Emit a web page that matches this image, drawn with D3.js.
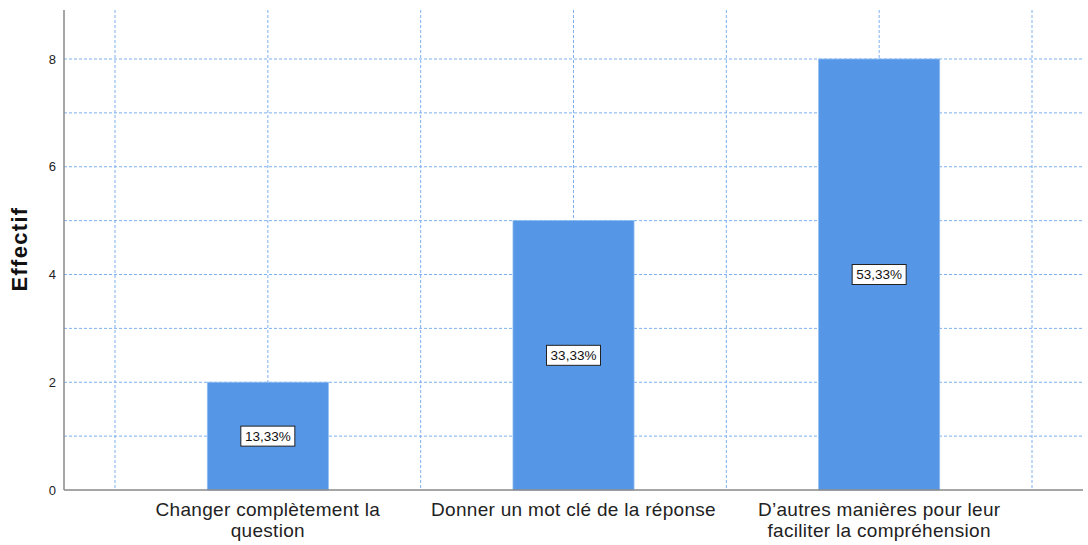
<!DOCTYPE html>
<html>
<head>
<meta charset="utf-8">
<script src="https://cdn.jsdelivr.net/npm/d3@7"></script>
<style>
  body { margin: 0; background: #fff; }
  svg { font-family: "Liberation Sans", Arial, sans-serif; }
</style>
</head>
<body>
<svg id="chart" width="1088" height="545"></svg>
<script>
const categories = [
  ["Changer complètement la", "question"],
  ["Donner un mot clé de la réponse"],
  ["D\u2019autres manières pour leur", "faciliter la compréhension"]
];
const counts = [2, 5, 8];
const percentLabels = ["13,33%", "33,33%", "53,33%"];
const yTicks = [0, 2, 4, 6, 8];
const yGrid = [1, 2, 3, 4, 5, 6, 7, 8];

const svg = d3.select("#chart");
const plotLeft = 64, plotRight = 1083, plotTop = 10, plotBottom = 490;

// band scale sits inside the axis, leaving room on both sides
const x = d3.scaleBand()
  .domain(d3.range(categories.length))
  .range([115, 1032])
  .paddingInner(0)
  .paddingOuter(0);

const y = d3.scaleLinear().domain([0, 8]).range([plotBottom, 59]);

const gridColor = "#7fb0f0";

// horizontal grid
svg.append("g").selectAll("line")
  .data(yGrid)
  .join("line")
  .attr("x1", plotLeft).attr("x2", plotRight)
  .attr("y1", d => y(d)).attr("y2", d => y(d))
  .attr("stroke", gridColor)
  .attr("stroke-width", 1)
  .attr("stroke-dasharray", "3,2");

// vertical grid: band edges and centres
const vGrid = [];
categories.forEach((c, i) => {
  vGrid.push(x(i));
  vGrid.push(x(i) + x.bandwidth() / 2);
});
vGrid.push(x(categories.length - 1) + x.bandwidth());

svg.append("g").selectAll("line")
  .data(vGrid)
  .join("line")
  .attr("x1", d => d).attr("x2", d => d)
  .attr("y1", plotTop).attr("y2", plotBottom)
  .attr("stroke", gridColor)
  .attr("stroke-width", 1)
  .attr("stroke-dasharray", "3,2");

// bars
const barW = x.bandwidth() * 0.396;
svg.append("g").selectAll("rect")
  .data(counts)
  .join("rect")
  .attr("x", (d, i) => x(i) + x.bandwidth() / 2 - barW / 2)
  .attr("y", d => y(d))
  .attr("width", barW)
  .attr("height", d => plotBottom - y(d))
  .attr("fill", "#5596e6")
  .attr("stroke", "#8fbcf0")
  .attr("stroke-width", 0.8);

// percentage labels
const lab = svg.append("g").selectAll("g")
  .data(counts)
  .join("g")
  .attr("transform", (d, i) => `translate(${x(i) + x.bandwidth() / 2},${y(d / 2)})`);

lab.append("rect")
  .attr("x", -27).attr("y", -10)
  .attr("width", 54).attr("height", 20)
  .attr("fill", "#fff")
  .attr("stroke", "#222")
  .attr("stroke-width", 1);

lab.append("text")
  .attr("text-anchor", "middle")
  .attr("dy", "0.36em")
  .attr("font-size", 13.5)
  .attr("fill", "#111")
  .text((d, i) => percentLabels[i]);

// axes lines
svg.append("line")
  .attr("x1", plotLeft).attr("x2", plotLeft)
  .attr("y1", plotTop).attr("y2", plotBottom)
  .attr("stroke", "#888").attr("stroke-width", 1.5);
svg.append("line")
  .attr("x1", plotLeft).attr("x2", plotRight)
  .attr("y1", plotBottom).attr("y2", plotBottom)
  .attr("stroke", "#888").attr("stroke-width", 1.5);

// y tick labels
svg.append("g").selectAll("text")
  .data(yTicks)
  .join("text")
  .attr("x", plotLeft - 8)
  .attr("y", d => y(d))
  .attr("dy", "0.35em")
  .attr("text-anchor", "end")
  .attr("font-size", 13)
  .attr("fill", "#222")
  .text(d => d);

// x category labels
const xl = svg.append("g").selectAll("text")
  .data(categories)
  .join("text")
  .attr("x", (d, i) => x(i) + x.bandwidth() / 2)
  .attr("y", 516)
  .attr("text-anchor", "middle")
  .attr("font-size", 19)
  .attr("letter-spacing", 0.3)
  .attr("fill", "#222");

xl.selectAll("tspan")
  .data((d, i) => d.map(t => ({ t, i })))
  .join("tspan")
  .attr("x", d => x(d.i) + x.bandwidth() / 2)
  .attr("dy", (d, j) => j === 0 ? 0 : 21)
  .text(d => d.t);

// y axis title
svg.append("text")
  .attr("transform", `translate(27,249) rotate(-90)`)
  .attr("text-anchor", "middle")
  .attr("font-size", 22)
  .attr("font-weight", "bold")
  .attr("letter-spacing", 1.3)
  .attr("fill", "#111")
  .text("Effectif");
</script>
</body>
</html>
